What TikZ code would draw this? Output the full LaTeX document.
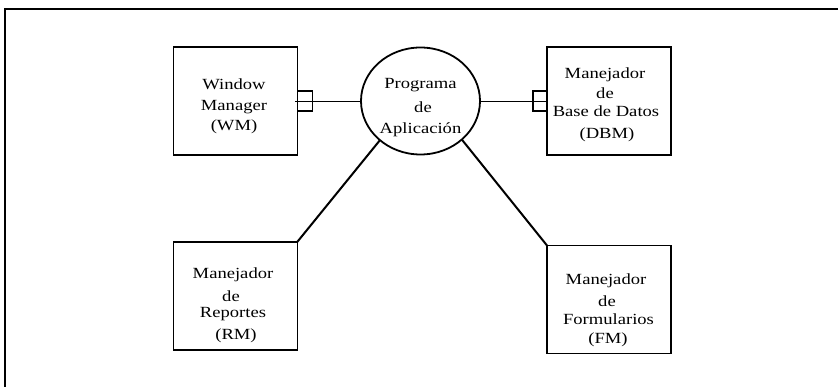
\documentclass[tikz,border=0pt]{standalone}
\usepackage{fontspec}
\setmainfont{Liberation Serif}[FakeStretch=1.2]
\usetikzlibrary{shapes.geometric}
\begin{document}
\begin{tikzpicture}[x=1pt,y=-1pt,
  box/.style={draw, line width=1.3pt, rectangle, inner sep=0pt, outer sep=0pt, minimum width=124pt, minimum height=108pt},
  appnode/.style={draw, line width=1.8pt, ellipse, inner sep=0pt, outer sep=0pt, minimum width=119pt, minimum height=107pt},
  txt/.style={anchor=base, inner sep=0pt, font=\fontsize{15.5}{18}\selectfont},
  thinline/.style={line width=0.9pt},
  bracket/.style={line width=1.3pt},
  thickline/.style={line width=2pt},
  frame/.style={line width=2pt}]
\useasboundingbox (0,0) rectangle (838,387);
% outer frame (top and left)
\coordinate (fa) at (4.5,387);
\coordinate (fc) at (838,9);
\draw[frame] (fa) -- (4.5,9) -- (fc);

\node[box] (wm) at (235.2,101) {};
\node[box] (dbm) at (609,101) {};
\node[box] (rm) at (235.2,296) {};
\node[box] (fm) at (609,299.5) {};
\node[appnode] (app) at (420.5,101) {};

% texts
\node[txt] (wm1) at (234,89.5) {Window};
\node[txt] (wm2) at (234,110.5) {Manager};
\node[txt] (wm3) at (234,131) {(WM)};

\node[txt] (ap1) at (420.5,88.5) {Programa};
\node[txt] (ap2) at (423,113) {de};
\node[txt] (ap3) at (420.5,133.5) {Aplicación};

\node[txt] (db1) at (605,78.5) {Manejador};
\node[txt] (db2) at (605,98.5) {de};
\node[txt] (db3) at (606,116.5) {Base de Datos};
\node[txt] (db4) at (607,138.5) {(DBM)};

\node[txt] (rm1) at (233,279) {Manejador};
\node[txt] (rm2) at (231,301.5) {de};
\node[txt] (rm3) at (233,317) {Reportes};
\node[txt] (rm4) at (236,339) {(RM)};

\node[txt] (fm1) at (606,285) {Manejador};
\node[txt] (fm2) at (607,306.5) {de};
\node[txt] (fm3) at (608.5,325) {Formularios};
\node[txt] (fm4) at (608,343.5) {(FM)};

% connectors
\draw[thinline] ([xshift=-2pt]wm.east) -- (app.west);
\draw[bracket] ([yshift=10pt]wm.east) -- ++(15,0) -- ++(0,20) -- ++(-15,0);
\draw[thinline] (app.east) -- (dbm.west);
\draw[bracket] ([yshift=10pt]dbm.west) -- ++(-14,0) -- ++(0,20) -- ++(14,0);
\draw[thickline] (app.224) -- (rm.north east);
\draw[thickline] (app.317) -- (fm.north west);
\end{tikzpicture}
\end{document}
